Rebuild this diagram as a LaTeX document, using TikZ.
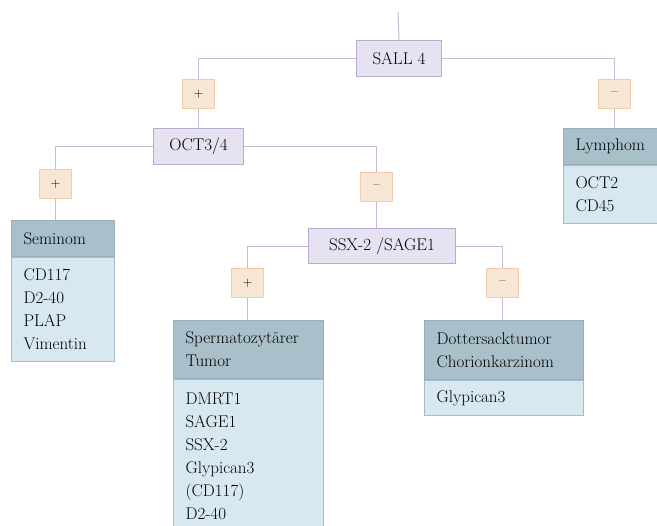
\documentclass[tikz,border=0pt]{standalone}
\usepackage{tikz}

\definecolor{lilafill}{HTML}{E6E2F2}
\definecolor{lilaline}{HTML}{B7ACCD}
\definecolor{signfill}{HTML}{F6E6D4}
\definecolor{signline}{HTML}{F3CCAC}
\definecolor{headfill}{HTML}{A9BFCA}
\definecolor{headline}{HTML}{97AEBC}
\definecolor{bodyfill}{HTML}{D8E8F1}
\definecolor{bodyline}{HTML}{A5BCCA}
\definecolor{connline}{HTML}{CBB8D5}

\begin{document}
\begin{tikzpicture}[x=1bp, y=-1bp,
  every node/.style={font=\fontsize{17bp}{23bp}\selectfont, anchor=north west},
  marker/.style={draw=lilaline, fill=lilafill, line width=1bp, inner sep=0pt, minimum height=36bp},
  sign/.style={draw=signline, fill=signfill, line width=1bp, inner sep=0pt,
    minimum width=32bp, minimum height=29bp, font=\fontsize{13bp}{15bp}\selectfont},
  head/.style={draw=headline, fill=headfill, line width=1bp, align=left, inner xsep=12bp, inner ysep=0pt},
  body/.style={draw=bodyline, fill=bodyfill, line width=1bp, align=left, inner xsep=12bp, inner ysep=0pt},
  conn/.style={draw=connline, line width=1bp}]
\useasboundingbox (0,0) rectangle (657,526);
\clip (0,0) rectangle (657,526);

% marker
\node[marker, minimum width=85bp] (sall) at (356,40) {SALL 4};
\node[marker, minimum width=90bp] (oct) at (153,128) {OCT3/4};
\node[marker, minimum width=147bp, minimum height=35bp] (ssx) at (308,228) {SSX-2 /SAGE1};

% + / -
\node[sign] (pos1) at (182,79) {+};
\node[sign] (neg1) at (598,79) {\textendash};
\node[sign] (pos2) at (39,169) {+};
\node[sign] (neg2) at (360,172) {\textendash};
\node[sign] (pos3) at (231,268) {+};
\node[sign] (neg3) at (486,268) {\textendash};

% Tumoren
\node[head, text width=79bp, minimum height=36bp] (semh) at (11,220) {Seminom};
\node[body, text width=79bp, minimum height=104bp] (semb) at (semh.south west) {CD117\\D2-40\\PLAP\\Vimentin};

\node[head, text width=86bp, minimum height=36bp] (lymh) at (563,128) {Lymphom};
\node[body, text width=86bp, minimum height=58bp] (lymb) at (lymh.south west) {OCT2\\CD45};

\node[head, text width=126bp, minimum height=58bp] (spzh) at (173,320) {Spermatozytärer\\Tumor};
\node[body, text width=126bp, minimum height=154bp] (spzb) at (spzh.south west) {DMRT1\\SAGE1\\SSX-2\\Glypican3\\(CD117)\\D2-40};

\node[head, text width=135bp, minimum height=59bp] (dsth) at (424,320) {Dottersacktumor\\Chorionkarzinom};
\node[body, text width=135bp, minimum height=35bp] (dstb) at (dsth.south west) {Glypican3};

% Verbindungen
\coordinate (start) at (398,12);
\draw[conn] (start) -- (sall.north);
\draw[conn] (sall.west) -| (pos1.north);
\draw[conn] (pos1.south) -- (oct.north -| pos1.south);
\draw[conn] (sall.east) -| (neg1.north);
\draw[conn] (neg1.south) -- (lymh.north -| neg1.south);

\draw[conn] (oct.west) -| (pos2.north);
\draw[conn] (pos2.south) -- (semh.north -| pos2.south);
\draw[conn] (oct.east) -| (neg2.north);
\draw[conn] (neg2.south) -- (ssx.north -| neg2.south);

\draw[conn] (ssx.west) -| (pos3.north);
\draw[conn] (pos3.south) -- (spzh.north -| pos3.south);
\draw[conn] (ssx.east) -| (neg3.north);
\draw[conn] (neg3.south) -- (dsth.north -| neg3.south);

\end{tikzpicture}
\end{document}
